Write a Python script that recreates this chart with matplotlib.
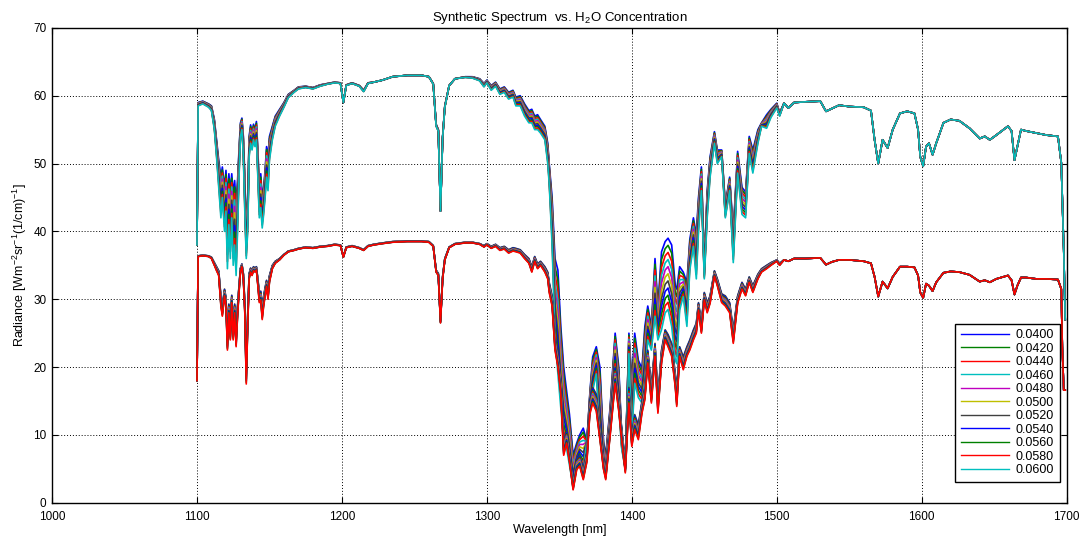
import numpy as np
import matplotlib
matplotlib.use("Agg")
import matplotlib.pyplot as plt

plt.rcParams['font.family'] = ['Liberation Sans', 'DejaVu Sans']
plt.rcParams['mathtext.default'] = 'regular'

# concentrations (legend)
conc = [0.0400, 0.0420, 0.0440, 0.0460, 0.0480, 0.0500,
        0.0520, 0.0540, 0.0560, 0.0580, 0.0600]

# wavelength grid where the curves differ (nm)
wl_band = [
    1100, 1100.8, 1104, 1108, 1110, 1112, 1113.5, 1115, 1116.5, 1117.5,
    1119, 1120, 1121, 1122, 1123, 1124, 1125, 1126, 1127, 1128,
    1129, 1130, 1131, 1132, 1133, 1134, 1135, 1136, 1137, 1138,
    1139, 1140, 1141, 1142, 1143, 1144, 1145, 1146, 1147, 1148,
    1149, 1150, 1152, 1154,
    1157, 1160, 1163, 1167, 1170, 1175, 1180, 1185, 1190, 1195,
    1199, 1201, 1203, 1207, 1212, 1215, 1218, 1222, 1228, 1235,
    1245, 1255, 1260, 1263, 1265, 1266.5, 1268, 1269.5, 1271, 1274,
    1278, 1285, 1290, 1295, 1298, 1300, 1303, 1306, 1309, 1312,
    1315, 1318, 1320, 1323, 1326, 1329, 1331, 1333, 1335, 1337,
    1340, 1342,
    1343, 1345, 1347, 1349, 1351, 1353, 1355, 1357, 1359.5, 1362,
    1364, 1366.5, 1369, 1371, 1373, 1375.5, 1378, 1380.5, 1382, 1385,
    1388.5, 1391, 1393, 1395.5, 1398, 1400, 1402, 1404.5, 1407, 1409,
    1411, 1413.5, 1416, 1418, 1420.5, 1423, 1425, 1427.5, 1430, 1431,
    1433, 1435.5, 1438, 1440, 1442.5, 1444.5, 1446, 1448, 1450, 1452,
    1454, 1457, 1459, 1462, 1464.5, 1467.5, 1470, 1473, 1476, 1478.5,
    1481, 1483.5, 1487, 1489.5, 1493, 1496, 1500, 1502,
]

# upper spectrum, lowest concentration (0.0400)
upper_040 = [
    38, 59, 59.2, 58.8, 58.5, 56.5, 53.5, 50.5, 48, 49.5,
    46.5, 49, 45, 48.5, 46, 48.5, 45.5, 47.5, 44, 47.5,
    52, 56, 56.7, 54, 48, 40, 45, 54, 55.7, 54.5,
    55.8, 55, 56.2, 52, 46.5, 48.5, 45, 46.5, 49, 52.5,
    51, 54, 55.5, 57,
    58, 59, 60.2, 60.8, 61.3, 61.4, 61.2, 61.6, 61.8, 62,
    61.9, 59, 61.6, 61.9, 61.5, 60.8, 61.9, 62, 62.3, 62.8,
    63, 63, 62.8, 61.8, 55.8, 55, 43, 54, 58.5, 61.5,
    62.5, 62.8, 62.8, 62.5, 61.8, 62.3, 61.5, 62, 61, 61.3,
    60.5, 60.8, 59.8, 60, 58.8, 57.8, 58, 57, 57.2, 56.5,
    55.5, 53,
    50, 45, 36, 34.3, 26, 20, 16.5, 13, 7, 8.8,
    10, 11, 9, 16, 21.5, 23, 20, 9, 7, 14,
    25, 20, 10, 5.5, 25, 18, 25, 21, 19.8, 26,
    29, 26, 36, 29, 37, 38.5, 39, 38, 32, 31.5,
    34.8, 34, 32.5, 38.8, 42, 39.5, 45, 49.5, 35, 46,
    51, 54.7, 52, 52, 44, 48, 40, 51.8, 46.5, 45.8,
    54, 52, 55, 56, 57.2, 58, 58.9, 57.5,
]

# upper spectrum, highest concentration (0.0600)
upper_060 = [
    38, 58.5, 58.8, 58.3, 57.8, 55, 51, 46.5, 42, 45,
    40, 43, 34.5, 41, 36, 42, 35, 38, 33.5, 40,
    48, 54, 55, 51, 43, 36, 40, 51, 53, 52,
    53.5, 52.5, 53.5, 48, 42, 43.5, 40.5, 42.5, 45, 48,
    46, 50.5, 53.5, 55.5,
    57, 58.3, 59.7, 60.5, 61, 61.2, 61, 61.4, 61.7, 61.9,
    61.8, 59, 61.5, 61.8, 61.4, 60.6, 61.8, 62, 62.3, 62.8,
    63, 63, 62.8, 61.7, 55.5, 54.8, 43, 53.8, 58.3, 61.5,
    62.5, 62.7, 62.6, 62.2, 61.3, 61.9, 60.8, 61.4, 60.2, 60.5,
    59.5, 59.8, 58.5, 58.5, 57, 56, 56, 55, 55, 54.5,
    53.5, 50,
    47, 38, 24.5, 19, 14, 9.5, 8, 5.5, 2.4, 5.5,
    6.5, 5, 9, 13.5, 16.5, 19, 10, 5, 3.9, 10.5,
    20, 14, 8, 4.9, 22, 10, 17.6, 15.5, 14.7, 18,
    24, 22.5, 27.5, 24, 25.5, 28, 28.5, 26, 21, 20.5,
    28.4, 30.4, 26, 34.3, 37.8, 33, 40, 46, 33, 42,
    48, 53, 50, 51, 42, 46, 35.4, 48.6, 42.5, 42,
    51.5, 48.6, 53, 55.5, 55.2, 56.8, 58.2, 57,
]

# lower spectrum, lowest concentration (0.0400)
lower_040 = [
    18, 36.4, 36.5, 36.4, 36.2, 35.4, 34.8, 34.2, 30.5, 29,
    31.5, 30.3, 24.5, 29.3, 25.8, 30.6, 25.8, 29.3, 25, 29,
    32, 34.6, 35.2, 33.8, 29.5, 20, 27.8, 33.8, 34.6, 34.2,
    34.8, 34.6, 34.8, 33, 31, 31.2, 28.8, 30.5, 31.7, 32.8,
    31.3, 33.5, 35, 35.6,
    36, 36.6, 37.1, 37.3, 37.5, 37.7, 37.6, 37.8, 37.9, 38.1,
    38, 36.3, 37.7, 37.9, 37.6, 37.3, 37.9, 38.1, 38.3, 38.5,
    38.6, 38.6, 38.5, 37.9, 34.3, 33.8, 27, 33.4, 36, 37.7,
    38.2, 38.4, 38.4, 38.2, 37.9, 38.2, 37.8, 38.1, 37.6, 37.8,
    37.3, 37.6, 37.5, 37.3, 36.6, 36, 34.8, 36.3, 35.2, 35.6,
    34.8, 34,
    32.5, 30.5, 24.5, 22, 18, 9, 10.5, 7.5, 3, 6.5,
    7, 5, 7.5, 15, 17, 16, 11, 6.5, 5, 11.5,
    20, 15.5, 11, 6, 17, 10, 13, 11.5, 15, 17,
    22.5, 17, 23.5, 15.5, 22.5, 25.5, 24.8, 23.5, 19, 16.5,
    23, 21.5, 23, 24, 25.5, 26.5, 29.5, 26.5, 31, 29.5,
    30.5, 34.2, 33, 30.8, 30.5, 29.5, 25.5, 30.5, 32.5, 31.5,
    33.3, 32, 33.7, 34.5, 35, 35.4, 35.8, 35.3,
]

# lower spectrum, highest concentration (0.0600)
lower_060 = [
    18, 36.3, 36.4, 36.3, 36, 35, 34.2, 33.5, 29, 27.5,
    30.5, 29, 22.5, 28, 24, 29.5, 24, 28, 23, 27.5,
    31, 34, 34.8, 33, 28, 17.5, 26, 33, 34, 33.5,
    34.2, 34, 34.3, 32, 29.5, 29.9, 27, 29, 30.5, 31.9,
    30, 32.5, 34.5, 35.3,
    35.8, 36.5, 37, 37.2, 37.4, 37.6, 37.5, 37.7, 37.8, 38,
    37.9, 36.2, 37.6, 37.8, 37.5, 37.2, 37.8, 38, 38.2, 38.4,
    38.5, 38.5, 38.4, 37.8, 34, 33.5, 26.5, 33, 35.8, 37.6,
    38.1, 38.3, 38.3, 38.1, 37.7, 38, 37.5, 37.8, 37.2, 37.4,
    36.8, 37.1, 37, 36.8, 36, 35.3, 34, 35.6, 34.5, 35,
    34, 33,
    31, 29, 22.5, 20, 16, 7, 8.8, 6, 1.9, 4.9,
    5.4, 3.4, 6, 13, 14.7, 13.5, 9.3, 4.9, 3.4, 9.8,
    17.6, 13.5, 9.3, 4.4, 14.7, 8.3, 10.8, 9.3, 13.2, 15.2,
    20.6, 14.7, 21.6, 13.2, 20.6, 24, 23, 21.6, 17, 14.2,
    21.6, 19.6, 21.6, 22.5, 24, 25, 28.4, 25, 29.9, 28,
    29.4, 33.4, 32, 29.5, 29, 28, 23.5, 29.4, 31.5, 30.5,
    32.5, 31, 33, 34, 34.5, 35, 35.6, 35,
]

# beyond 1502 nm all concentrations give the same curve
wl_tail = [
    1505, 1508, 1512, 1520, 1530, 1534, 1538, 1543, 1550, 1560,
    1565, 1567.5, 1570, 1573, 1576.5, 1580, 1585, 1590, 1595, 1597.5,
    1599, 1601, 1603, 1605, 1607.5, 1610, 1615, 1620, 1626, 1633,
    1640, 1643.5, 1647, 1651.5, 1659.5, 1662, 1664, 1666, 1668.5, 1672,
    1679, 1686, 1694, 1696.3, 1697, 1698, 1699,
]
upper_tail = [
    58.9, 58.2, 59, 59.1, 59.2, 57.7, 58.1, 58.6, 58.4, 58.3,
    57.8, 53.5, 50, 53.5, 52.3, 55, 57.4, 57.7, 57.4, 55,
    51, 49.6, 52.5, 53, 51.3, 53, 56, 56.5, 56.3, 55.2,
    53.7, 54, 53.5, 54.2, 55.5, 54.8, 50.5, 52.5, 55, 54.8,
    54.5, 54.2, 54, 50.1, 45, 37.3, 27,
]
lower_tail = [
    35.8, 35.6, 36, 36, 36.1, 35.1, 35.5, 35.8, 35.8, 35.6,
    35.3, 33.3, 30.4, 32.6, 31.6, 33.3, 34.8, 34.8, 34.7, 33.5,
    31, 30.2, 32.3, 32, 31.2, 32.5, 33.9, 34.1, 34, 33.6,
    32.6, 32.8, 32.5, 33, 33.5, 32.8, 30.7, 32, 33.2, 33.2,
    33, 33, 32.9, 31.5, 23, 16.6, 16.6,
]

assert len(wl_band) == len(upper_040) == len(upper_060) == len(lower_040) == len(lower_060)
assert len(wl_tail) == len(upper_tail) == len(lower_tail)

wl = np.array(wl_band + wl_tail)
u040 = np.array(upper_040 + upper_tail)
u060 = np.array(upper_060 + upper_tail)
l040 = np.array(lower_040 + lower_tail)
l060 = np.array(lower_060 + lower_tail)

# MATLAB default colour order
co = [(0, 0, 1), (0, 0.5, 0), (1, 0, 0), (0, 0.75, 0.75),
      (0.75, 0, 0.75), (0.75, 0.75, 0), (0.25, 0.25, 0.25)]

fig = plt.figure(figsize=(10.84, 5.36), dpi=100)
ax = fig.add_axes([0.048, 0.062, 0.936, 0.886])

handles = []
for i, c in enumerate(conc):
    f = (c - conc[0]) / (conc[-1] - conc[0])
    y = u040 + f * (u060 - u040)
    h, = ax.plot(wl, y, color=co[i % 7], lw=1.2, label='%.4f' % c)
    handles.append(h)
for i, c in enumerate(conc):
    f = (c - conc[0]) / (conc[-1] - conc[0])
    y = l040 + f * (l060 - l040)
    ax.plot(wl, y, color=co[(i + 6) % 7], lw=1.2)

ax.set_xlim(1000, 1700)
ax.set_ylim(0, 70)
ax.set_xticks(range(1000, 1701, 100))
ax.set_yticks(range(0, 71, 10))
ax.grid(True, color='black', linestyle=(0, (1, 2)), linewidth=0.7)
ax.tick_params(direction='in', top=True, right=True, labelsize=8.5, length=4)
ax.tick_params(axis='x', pad=6)
ax.tick_params(axis='y', pad=4)
for s in ax.spines.values():
    s.set_linewidth(1.0)

ax.set_title('Synthetic Spectrum  vs. H$_2$O Concentration', fontsize=9.5, pad=5)
ax.set_xlabel('Wavelength [nm]', fontsize=9, labelpad=1)
ax.set_ylabel('Radiance [Wm$^{-2}$sr$^{-1}$(1/cm)$^{-1}$]', fontsize=9, labelpad=3)

leg = ax.legend(handles=handles, loc='lower right', fontsize=9, fancybox=False,
                framealpha=1, edgecolor='black', handlelength=3.9,
                handletextpad=0.5, labelspacing=0.12, borderpad=0.45,
                borderaxespad=0, bbox_to_anchor=(0.993, 0.044))
leg.get_frame().set_linewidth(1.0)
for line in leg.get_lines():
    line.set_linewidth(1.0)

plt.savefig('out.png', dpi=100)
